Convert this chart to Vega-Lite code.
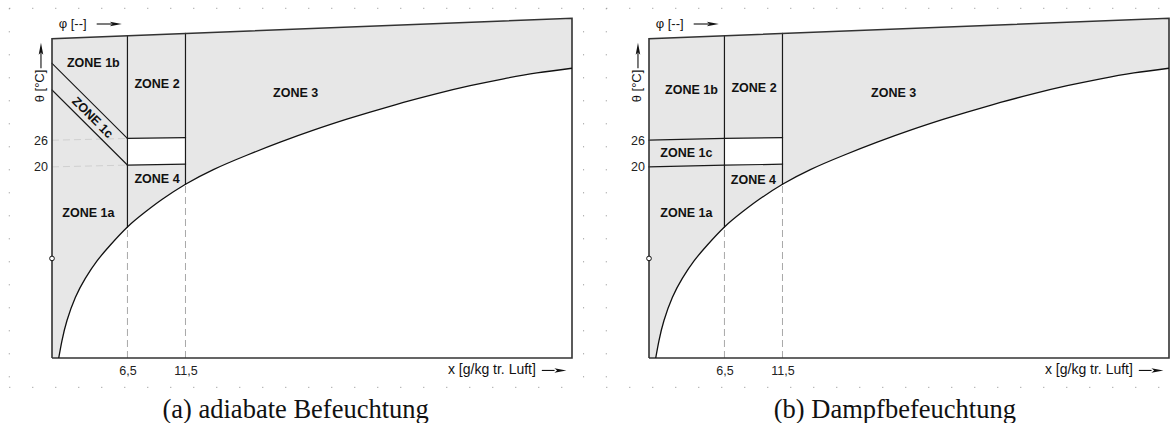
{
  "$schema": "https://vega.github.io/schema/vega-lite/v6.json",
  "padding": {"left": 8, "top": 7, "right": 0, "bottom": 0},
  "background": "white",
  "spacing": 77,
  "bounds": "flush",
  "config": {"view": {"stroke": null}, "font": "Liberation Sans", "axis": {"labelFont": "Liberation Sans"}},
  "datasets": {
    "top": [{"x": 0, "t": 48.84}, {"x": 44.8, "t": 53.43}],
    "sat": [
      {"x": 0.58, "t": -23}, {"x": 0.86, "t": -19.08}, {"x": 1.29, "t": -14.57}, {"x": 2.01, "t": -9.39},
      {"x": 2.87, "t": -5.09}, {"x": 3.88, "t": -1.15}, {"x": 5.03, "t": 2.42}, {"x": 6.5, "t": 6.47},
      {"x": 8.0, "t": 9.77}, {"x": 9.5, "t": 12.7}, {"x": 11.5, "t": 16.08}, {"x": 13.9, "t": 19.39},
      {"x": 16.78, "t": 22.62}, {"x": 19.66, "t": 25.56}, {"x": 22.53, "t": 28.26}, {"x": 25.4, "t": 30.73},
      {"x": 27.41, "t": 32.34}, {"x": 30.28, "t": 34.49}, {"x": 33.16, "t": 36.48}, {"x": 36.03, "t": 38.26},
      {"x": 38.91, "t": 39.82}, {"x": 41.78, "t": 41.14}, {"x": 44.8, "t": 42.2}
    ],
    "comfort": [{"x": 6.5, "t": 26.4, "t2": 20.4}, {"x": 11.5, "t": 26.6, "t2": 20.6}],
    "frame": [
      {"o": 1, "x": 0, "t": -23}, {"o": 2, "x": 0, "t": 48.84}, {"o": 3, "x": 44.8, "t": 53.43},
      {"o": 4, "x": 44.8, "t": -23}, {"o": 5, "x": 0, "t": -23}
    ],
    "seg": [
      {"p": "ab", "x": 6.5, "t": 6.47, "x2": 6.5, "t2": 49.51},
      {"p": "ab", "x": 11.5, "t": 16.08, "x2": 11.5, "t2": 50.02},
      {"p": "ab", "x": 6.5, "t": 26.4, "x2": 11.5, "t2": 26.6},
      {"p": "ab", "x": 6.5, "t": 20.4, "x2": 11.5, "t2": 20.6},
      {"p": "a", "x": 0, "t": 43.3, "x2": 6.5, "t2": 26.4},
      {"p": "a", "x": 0, "t": 37.3, "x2": 6.5, "t2": 20.4},
      {"p": "b", "x": 0, "t": 26, "x2": 6.5, "t2": 26.4},
      {"p": "b", "x": 0, "t": 20, "x2": 6.5, "t2": 20.4}
    ],
    "dash": [
      {"p": "ab", "c": "v", "x": 6.5, "t": -23, "x2": 6.5, "t2": 6.47},
      {"p": "ab", "c": "v", "x": 11.5, "t": -23, "x2": 11.5, "t2": 16.08},
      {"p": "a", "c": "h", "x": 0, "t": 26, "x2": 6.5, "t2": 26.4},
      {"p": "a", "c": "h", "x": 0, "t": 20, "x2": 6.5, "t2": 20.4}
    ],
    "dots": [
      {"x": -3.68, "t": 55.68, "x2": 45.8, "t2": 55.68},
      {"x": -3.68, "t": -29.6, "x2": 45.8, "t2": -29.6},
      {"x": -3.68, "t": 55.68, "x2": -3.68, "t2": -29.6},
      {"x": 45.8, "t": 55.68, "x2": 45.8, "t2": -29.6}
    ],
    "marker": [{"x": 0, "t": -0.6}],
    "arrowline": [
      {"x": 3.85, "t": 52.15, "x2": 5.2, "t2": 52.15},
      {"x": 42.2, "t": -25.8, "x2": 43.3, "t2": -25.8},
      {"x": -0.95, "t": 42.18, "x2": -0.95, "t2": 45.85}
    ],
    "arrowhead": [
      {"x": 5.5, "t": 52.15, "ang": 0},
      {"x": 43.8, "t": -25.8, "ang": 0},
      {"x": -0.95, "t": 46.56, "ang": 270}
    ],
    "zones": [
      {"p": "a", "x": 3.56, "t": 43.3, "label": "ZONE 1b", "ang": 0},
      {"p": "a", "x": 9.05, "t": 38.65, "label": "ZONE 2", "ang": 0},
      {"p": "a", "x": 3.49, "t": 31.1, "label": "ZONE 1c", "ang": 45},
      {"p": "a", "x": 9.05, "t": 17.27, "label": "ZONE 4", "ang": 0},
      {"p": "a", "x": 3.13, "t": 9.55, "label": "ZONE 1a", "ang": 0},
      {"p": "a", "x": 20.99, "t": 36.56, "label": "ZONE 3", "ang": 0},
      {"p": "b", "x": 3.66, "t": 37.3, "label": "ZONE 1b", "ang": 0},
      {"p": "b", "x": 9.05, "t": 37.68, "label": "ZONE 2", "ang": 0},
      {"p": "b", "x": 3.22, "t": 23.05, "label": "ZONE 1c", "ang": 0},
      {"p": "b", "x": 8.99, "t": 17.05, "label": "ZONE 4", "ang": 0},
      {"p": "b", "x": 3.22, "t": 9.55, "label": "ZONE 1a", "ang": 0},
      {"p": "b", "x": 21.08, "t": 36.56, "label": "ZONE 3", "ang": 0}
    ],
    "labels": [
      {"x": 1.78, "t": 52.15, "label": "φ [--]", "ang": 0, "fs": 13},
      {"x": 37.9, "t": -25.7, "label": "x [g/kg tr. Luft]", "ang": 0, "fs": 14},
      {"x": -1.03, "t": 38.2, "label": "θ [°C]", "ang": 270, "fs": 13}
    ],
    "captions": [
      {"p": "a", "x": 20.99, "t": -36.4, "label": "(a) adiabate Befeuchtung"},
      {"p": "b", "x": 21.18, "t": -36.4, "label": "(b) Dampfbefeuchtung"}
    ]
  },
  "hconcat": [
    {
      "width": 520,
      "height": 340,
      "encoding": {
        "x": {"field": "x", "type": "quantitative", "scale": {"domain": [0, 44.8]},
          "axis": {"values": [6.5, 11.5], "labelExpr": "replace(format(datum.value, '.1f'), '.', ',')", "domain": false, "ticks": false, "grid": false, "title": null, "labelFontSize": 12.5, "labelColor": "#222", "labelPadding": 6}},
        "y": {"field": "t", "type": "quantitative", "scale": {"domain": [-23, 53.5]},
          "axis": {"values": [20, 26], "domain": false, "ticks": false, "grid": false, "title": null, "labelFontSize": 12.5, "labelColor": "#222", "labelPadding": 4.5}}
      },
      "layer": [
        {"data": {"name": "top"}, "mark": {"type": "area", "color": "#e7e7e7"}, "encoding": {"y2": {"datum": -23}}},
        {"data": {"name": "sat"}, "mark": {"type": "area", "color": "white", "interpolate": "natural"}, "encoding": {"y2": {"datum": -23}}},
        {"data": {"name": "comfort"}, "mark": {"type": "area", "color": "white"}, "encoding": {"y2": {"field": "t2"}}},
        {"data": {"name": "dash"}, "transform": [{"filter": "datum.p != 'b'"}], "mark": {"type": "rule", "strokeDash": [7, 4], "strokeWidth": 1},
          "encoding": {"x2": {"field": "x2"}, "y2": {"field": "t2"}, "color": {"condition": {"test": "datum.c == 'v'", "value": "#a8a8a8"}, "value": "#d0d0d0"}}},
        {"data": {"name": "dots"}, "mark": {"type": "rule", "strokeDash": [1, 22], "strokeWidth": 1, "color": "#8a8a8a"},
          "encoding": {"x2": {"field": "x2"}, "y2": {"field": "t2"}}},
        {"data": {"name": "seg"}, "transform": [{"filter": "datum.p != 'b'"}], "mark": {"type": "rule", "color": "#1a1a1a", "strokeWidth": 1.2, "strokeCap": "square"},
          "encoding": {"x2": {"field": "x2"}, "y2": {"field": "t2"}}},
        {"data": {"name": "frame"}, "mark": {"type": "line", "color": "#333", "strokeWidth": 1.6, "strokeJoin": "miter"},
          "encoding": {"order": {"field": "o", "type": "quantitative"}}},
        {"data": {"name": "sat"}, "mark": {"type": "line", "color": "#111", "strokeWidth": 1.3, "interpolate": "natural"}, "encoding": {}},
        {"data": {"name": "marker"}, "mark": {"type": "point", "shape": "circle", "size": 22, "filled": true, "fill": "white", "stroke": "#111", "strokeWidth": 1, "opacity": 1}, "encoding": {}},
        {"data": {"name": "arrowline"}, "mark": {"type": "rule", "color": "#111", "strokeWidth": 1.1},
          "encoding": {"x2": {"field": "x2"}, "y2": {"field": "t2"}}},
        {"data": {"name": "arrowhead"}, "mark": {"type": "point", "shape": "M1,0L-1,-0.38L-0.55,0L-1,0.38Z", "size": 144, "filled": true, "color": "#111", "opacity": 1},
          "encoding": {"angle": {"field": "ang", "type": "quantitative", "scale": null}}},
        {"data": {"name": "zones"}, "transform": [{"filter": "datum.p == 'a'"}], "mark": {"type": "text", "font": "Liberation Sans", "fontWeight": "bold", "fontSize": 12.5, "color": "#111", "align": "center", "baseline": "middle"},
          "encoding": {"text": {"field": "label"}, "angle": {"field": "ang", "type": "quantitative", "scale": null}}},
        {"data": {"name": "labels"}, "mark": {"type": "text", "font": "Liberation Sans", "color": "#111", "align": "center", "baseline": "middle"},
          "encoding": {"text": {"field": "label"}, "angle": {"field": "ang", "type": "quantitative", "scale": null}, "size": {"field": "fs", "type": "quantitative", "scale": null}}},
        {"data": {"name": "captions"}, "transform": [{"filter": "datum.p == 'a'"}], "mark": {"type": "text", "font": "Liberation Serif", "fontSize": 26.5, "color": "#111", "align": "center", "baseline": "alphabetic"},
          "encoding": {"text": {"field": "label"}}}
      ]
    },
    {
      "width": 520,
      "height": 340,
      "encoding": {
        "x": {"field": "x", "type": "quantitative", "scale": {"domain": [0, 44.8]},
          "axis": {"values": [6.5, 11.5], "labelExpr": "replace(format(datum.value, '.1f'), '.', ',')", "domain": false, "ticks": false, "grid": false, "title": null, "labelFontSize": 12.5, "labelColor": "#222", "labelPadding": 6}},
        "y": {"field": "t", "type": "quantitative", "scale": {"domain": [-23, 53.5]},
          "axis": {"values": [20, 26], "domain": false, "ticks": false, "grid": false, "title": null, "labelFontSize": 12.5, "labelColor": "#222", "labelPadding": 4.5}}
      },
      "layer": [
        {"data": {"name": "top"}, "mark": {"type": "area", "color": "#e7e7e7"}, "encoding": {"y2": {"datum": -23}}},
        {"data": {"name": "sat"}, "mark": {"type": "area", "color": "white", "interpolate": "natural"}, "encoding": {"y2": {"datum": -23}}},
        {"data": {"name": "comfort"}, "mark": {"type": "area", "color": "white"}, "encoding": {"y2": {"field": "t2"}}},
        {"data": {"name": "dash"}, "transform": [{"filter": "datum.p != 'a'"}], "mark": {"type": "rule", "strokeDash": [7, 4], "strokeWidth": 1},
          "encoding": {"x2": {"field": "x2"}, "y2": {"field": "t2"}, "color": {"condition": {"test": "datum.c == 'v'", "value": "#a8a8a8"}, "value": "#d0d0d0"}}},
        {"data": {"name": "dots"}, "mark": {"type": "rule", "strokeDash": [1, 22], "strokeWidth": 1, "color": "#8a8a8a"},
          "encoding": {"x2": {"field": "x2"}, "y2": {"field": "t2"}}},
        {"data": {"name": "seg"}, "transform": [{"filter": "datum.p != 'a'"}], "mark": {"type": "rule", "color": "#1a1a1a", "strokeWidth": 1.2, "strokeCap": "square"},
          "encoding": {"x2": {"field": "x2"}, "y2": {"field": "t2"}}},
        {"data": {"name": "frame"}, "mark": {"type": "line", "color": "#333", "strokeWidth": 1.6, "strokeJoin": "miter"},
          "encoding": {"order": {"field": "o", "type": "quantitative"}}},
        {"data": {"name": "sat"}, "mark": {"type": "line", "color": "#111", "strokeWidth": 1.3, "interpolate": "natural"}, "encoding": {}},
        {"data": {"name": "marker"}, "mark": {"type": "point", "shape": "circle", "size": 22, "filled": true, "fill": "white", "stroke": "#111", "strokeWidth": 1, "opacity": 1}, "encoding": {}},
        {"data": {"name": "arrowline"}, "mark": {"type": "rule", "color": "#111", "strokeWidth": 1.1},
          "encoding": {"x2": {"field": "x2"}, "y2": {"field": "t2"}}},
        {"data": {"name": "arrowhead"}, "mark": {"type": "point", "shape": "M1,0L-1,-0.38L-0.55,0L-1,0.38Z", "size": 144, "filled": true, "color": "#111", "opacity": 1},
          "encoding": {"angle": {"field": "ang", "type": "quantitative", "scale": null}}},
        {"data": {"name": "zones"}, "transform": [{"filter": "datum.p == 'b'"}], "mark": {"type": "text", "font": "Liberation Sans", "fontWeight": "bold", "fontSize": 12.5, "color": "#111", "align": "center", "baseline": "middle"},
          "encoding": {"text": {"field": "label"}, "angle": {"field": "ang", "type": "quantitative", "scale": null}}},
        {"data": {"name": "labels"}, "mark": {"type": "text", "font": "Liberation Sans", "color": "#111", "align": "center", "baseline": "middle"},
          "encoding": {"text": {"field": "label"}, "angle": {"field": "ang", "type": "quantitative", "scale": null}, "size": {"field": "fs", "type": "quantitative", "scale": null}}},
        {"data": {"name": "captions"}, "transform": [{"filter": "datum.p == 'b'"}], "mark": {"type": "text", "font": "Liberation Serif", "fontSize": 26.5, "color": "#111", "align": "center", "baseline": "alphabetic"},
          "encoding": {"text": {"field": "label"}}}
      ]
    }
  ]
}
